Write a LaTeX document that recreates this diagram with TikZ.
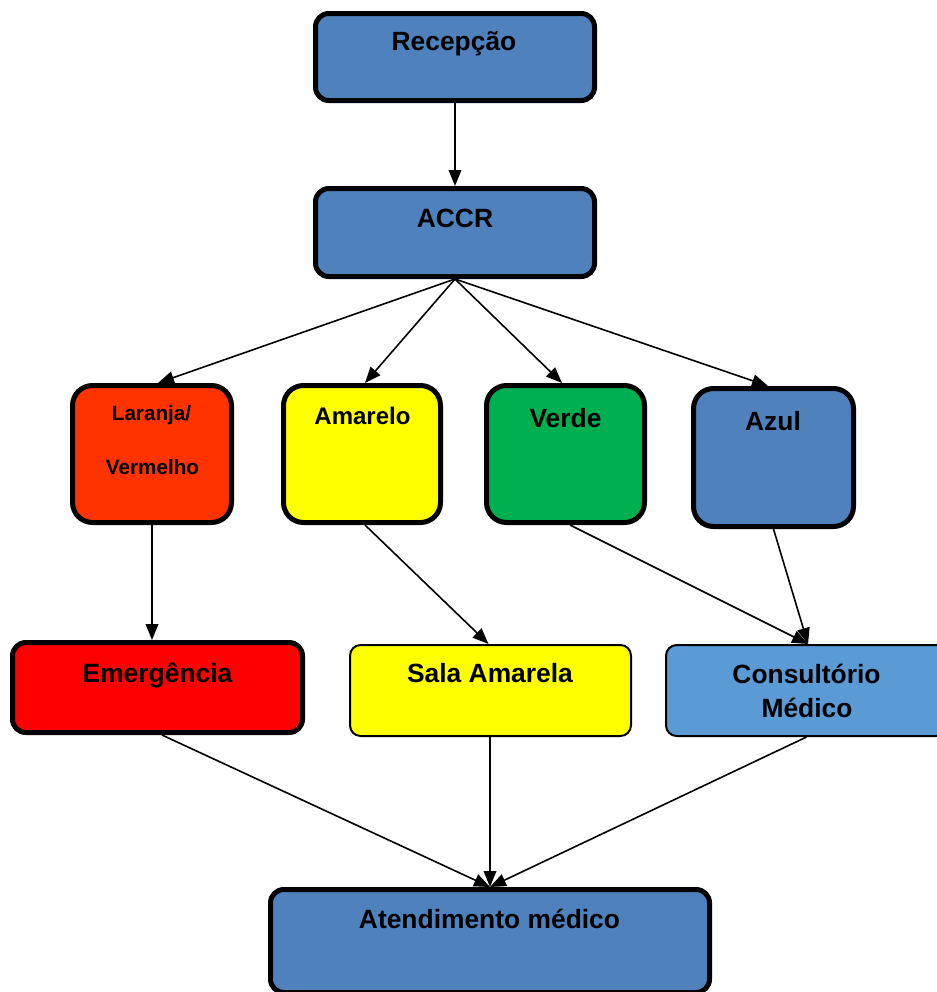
\documentclass[tikz,border=0pt]{standalone}
\usepackage{fontspec}
\setmainfont{Liberation Sans}
\usetikzlibrary{arrows.meta,calc}
\definecolor{bxblue}{HTML}{4F81BD}
\definecolor{bxorange}{HTML}{FF3300}
\definecolor{bxyellow}{HTML}{FFFF00}
\definecolor{bxgreen}{HTML}{00B050}
\definecolor{bxred}{HTML}{FF0000}
\definecolor{bxlight}{HTML}{5B9BD5}
\begin{document}
\begin{tikzpicture}[x=0.75pt,y=-0.75pt,
  thickbox/.style={draw=black, line width=3.75pt, rounded corners=10pt, inner sep=0pt},
  tallbox/.style={thickbox, rounded corners=15pt, minimum height=102.75pt},
  thinbox/.style={draw=black, line width=1.5pt, rounded corners=8pt, inner sep=0pt},
  lbl/.style={font=\bfseries\fontsize{19.8}{24}\selectfont, anchor=base, inner sep=0pt},
  conn/.style={line width=1.2pt, -{Triangle[length=12pt,width=9.5pt]}}]
\path[use as bounding box] (0,0) rectangle (937,992);

% boxes
\node[thickbox, fill=bxblue, minimum width=209.25pt, minimum height=65.25pt] (rec) at (455,57) {};
\node[thickbox, fill=bxblue, minimum width=209.25pt, minimum height=66pt] (accr) at (455,232.5) {};
\node[tallbox, fill=bxorange, minimum width=119.25pt] (lar) at (152,454) {};
\node[tallbox, fill=bxyellow, minimum width=117.75pt] (ama) at (362,454) {};
\node[tallbox, fill=bxgreen, minimum width=118.5pt] (ver) at (565.5,454) {};
\node[tallbox, fill=bxblue, minimum width=120pt, minimum height=103.5pt] (azu) at (773.5,457.5) {};
\node[thickbox, fill=bxred, minimum width=217.5pt, minimum height=67.5pt] (eme) at (157.5,687.5) {};
\node[thinbox, fill=bxyellow, minimum width=210.75pt, minimum height=68.25pt] (sal) at (490.5,690.5) {};
\node[thinbox, fill=bxlight, minimum width=210.75pt, minimum height=68.25pt] (con) at (806.5,690.5) {};
\node[thickbox, fill=bxblue, minimum width=329.25pt, minimum height=77.25pt] (ate) at (490,941) {};

% labels
\node[lbl] (recT) at (454,50) {Recepção};
\node[lbl] (accrT) at (455,227) {ACCR};
\node[lbl, font=\bfseries\fontsize{15.5}{18}\selectfont] (larT1) at (151.5,420) {Laranja/};
\node[lbl, font=\bfseries\fontsize{15.5}{18}\selectfont] (larT2) at (152.5,474) {Vermelho};
\node[lbl, font=\bfseries\fontsize{18}{22}\selectfont] (amaT) at (362.5,424) {Amarelo};
\node[lbl] (verT) at (565.5,427) {Verde};
\node[lbl] (azuT) at (773,430) {Azul};
\node[lbl] (emeT) at (157.5,682) {Emergência};
\node[lbl] (salT) at (490,682) {Sala Amarela};
\node[lbl] (conT1) at (806.5,683) {Consultório};
\node[lbl] (conT2) at (807,717) {Médico};
\node[lbl] (ateT) at (489.5,928) {Atendimento médico};

% connectors
\draw[conn] (rec.south) -- (accr.north);
\draw[conn] (accr.south) -- ($(lar.north)+(6,0)$);
\draw[conn] (accr.south) -- ($(ama.north)+(3,0)$);
\draw[conn] (accr.south) -- ($(ver.north)+(-3.5,0)$);
\draw[conn] (accr.south) -- ($(azu.north)+(-5.5,0)$);
\draw[conn] (lar.south) -- (lar.south |- eme.north);
\draw[conn] ($(ama.south)+(3,0)$) -- ($(sal.north)+(-2,0)$);
\draw[conn] ($(ver.south)+(4.5,0)$) -- ($(con.north)+(1.5,0)$);
\draw[conn] (azu.south) -- ($(con.north)+(1.5,0)$);
\draw[conn] ($(eme.south)+(4.5,0)$) -- (ate.north);
\draw[conn] ($(sal.south)+(-0.5,0)$) -- (ate.north);
\draw[conn] (con.south) -- (ate.north);
\end{tikzpicture}
\end{document}
